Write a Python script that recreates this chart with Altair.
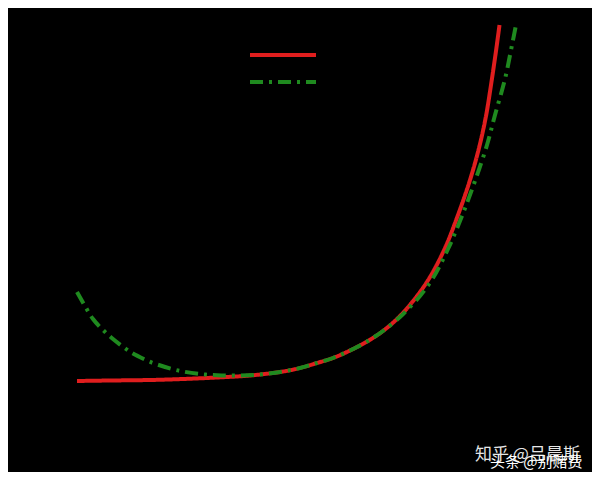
import altair as alt
import pandas as pd

# Values (arbitrary units: x rightwards, y upwards from the flat base)
red_x = [0, 33, 73, 106, 140, 173, 206, 223, 240, 256, 273, 290, 306, 323, 340, 353,
         368, 381, 393, 402, 409, 414, 419, 422.5]
red_y = [0, 0.5, 1, 2, 3.5, 5.5, 9.5, 13, 18, 23, 30.5, 39.5, 50, 65, 85, 104,
         133, 166, 201, 233, 265, 296, 330, 356]

green_x = [0, 8, 16, 26, 36, 49, 55, 70, 76, 95, 106, 123, 140, 160, 183, 206, 223, 240,
           256, 273, 290, 306, 323, 330, 343, 356, 371, 385, 398, 410, 418, 428, 435, 439]
green_y = [89, 75, 62, 51, 42, 32, 28, 20.5, 18, 12, 9.5, 7, 5.8, 5.5, 6.5, 9.5, 13, 18,
           23, 30.5, 39.5, 50, 64, 71, 85, 103, 132, 165, 200, 236, 266, 302, 336, 356]

series = ["exp(x)", "approx"]
colors = ["#e01e1e", "#1f8a1f"]
dashes = [[1, 0], [13, 6, 3, 6]]

watermark_1 = "知乎 @吕晨斯"
watermark_2 = "头条 @别赌费"

df = pd.concat([
    pd.DataFrame({"x": red_x, "y": red_y, "s": series[0], "o": range(len(red_x))}),
    pd.DataFrame({"x": green_x, "y": green_y, "s": series[1], "o": range(len(green_x))}),
])

W, H = 584, 464
xs = alt.Scale(domain=[-69, 515], nice=False, zero=False)
ys = alt.Scale(domain=[-91, 373], nice=False, zero=False)
cs = alt.Scale(domain=series, range=colors)
ds = alt.Scale(domain=series, range=dashes)

lines = alt.Chart(df).mark_line(strokeWidth=4, interpolate="catmull-rom", clip=False).encode(
    x=alt.X("x:Q", scale=xs, axis=None),
    y=alt.Y("y:Q", scale=ys, axis=None),
    order="o:Q",
    color=alt.Color("s:N", scale=cs, legend=None),
    strokeDash=alt.StrokeDash("s:N", scale=ds, legend=None),
)

# legend drawn by hand (labels are black on black in the reference)
leg_df = pd.DataFrame({"s": series, "row": [0, 1]})
ly = alt.Scale(domain=[0, 1], range=[47, 74])
legend_base = alt.Chart(leg_df)
leg_lines = legend_base.mark_rule(strokeWidth=4).encode(
    x=alt.value(242), x2=alt.value(308),
    y=alt.Y("row:Q", scale=ly, axis=None),
    color=alt.Color("s:N", scale=cs, legend=None),
    strokeDash=alt.StrokeDash("s:N", scale=ds, legend=None),
)
leg_text = legend_base.mark_text(align="left", baseline="middle", fontSize=12,
                                 color="black").encode(
    x=alt.value(318),
    y=alt.Y("row:Q", scale=ly, axis=None),
    text="s:N",
)
legend_layer = alt.layer(leg_lines, leg_text)

wm = pd.DataFrame({"t": [watermark_1, watermark_2]})
t1 = alt.Chart(wm.iloc[[0]]).mark_text(align="left", baseline="alphabetic", fontSize=17,
                                      color="white", font="Noto Sans CJK SC", opacity=0.9).encode(
    text="t:N", x=alt.value(467), y=alt.value(452))
t2 = alt.Chart(wm.iloc[[1]]).mark_text(align="left", baseline="alphabetic", fontSize=15,
                                      color="white", font="Noto Sans CJK SC").encode(
    text="t:N", x=alt.value(482), y=alt.value(459))

chart = alt.layer(lines, legend_layer, t1, t2).resolve_scale(y="independent").properties(
    width=W, height=H, background="black", padding=0,
    autosize=alt.AutoSizeParams(type="fit", contains="padding"),
).configure_view(stroke=None)

chart.save("out.html", embed_options={"renderer": "svg", "actions": False})
